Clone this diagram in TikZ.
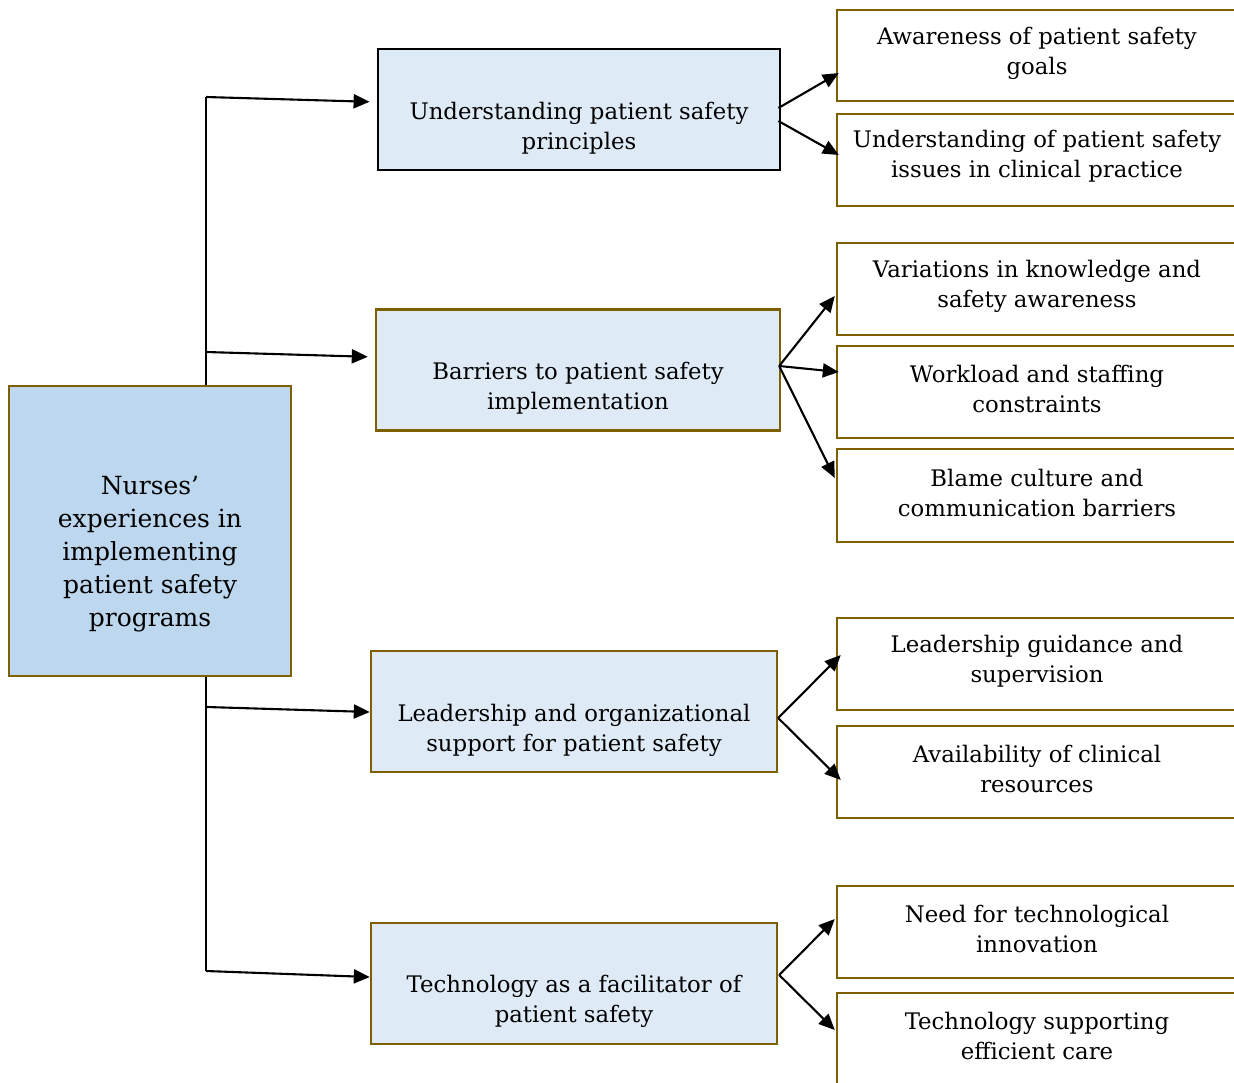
\documentclass[tikz,border=0pt]{standalone}
\usepackage{fontspec}
\setmainfont{DejaVu Serif}
\usetikzlibrary{arrows.meta,calc}
\definecolor{brd}{HTML}{7F6000}
\definecolor{mainfill}{HTML}{BDD7EE}
\definecolor{subfill}{HTML}{DEEBF7}
\begin{document}
\begin{tikzpicture}[x=1pt,y=-1pt,
  box/.style={draw=brd, line width=2.4pt, inner sep=0pt},
  mainbox/.style={box, fill=mainfill, minimum width=282pt, minimum height=290pt},
  themebox/.style={box, fill=subfill, minimum height=121pt},
  subbox/.style={box, fill=white, minimum width=400pt, minimum height=92pt},
  txt/.style={inner sep=0pt, align=center, font=\fontsize{22.8}{30}\selectfont},
  maintxt/.style={inner sep=0pt, align=center, font=\fontsize{25}{33}\selectfont},
  arr/.style={line width=2.1pt, -{Triangle[length=16pt,width=14pt]}},
  trunk/.style={line width=2.1pt}]
\useasboundingbox (0,0) rectangle (1234,1082);

% central node
\node[mainbox] (main) at (150,531) {};
\node[maintxt] (maintext) at ($(main.center)+(0,23)$) {Nurses'\\experiences in\\implementing\\patient safety\\programs};

% theme nodes
\node[themebox, draw=black, line width=2.8pt, minimum width=402pt] (t1) at (579,109.5) {};
\node[themebox, minimum width=404pt] (t2) at (578,370) {};
\node[themebox, minimum width=406pt] (t3) at (574,711.5) {};
\node[themebox, minimum width=406pt] (t4) at (574,983.5) {};
\node[txt] (t1text) at ($(t1.center)+(0,19)$) {Understanding patient safety\\principles};
\node[txt] (t2text) at ($(t2.center)+(0,18)$) {Barriers to patient safety\\implementation};
\node[txt] (t3text) at ($(t3.center)+(0,19)$) {Leadership and organizational\\support for patient safety};
\node[txt] (t4text) at ($(t4.center)+(0,18)$) {Technology as a facilitator of\\patient safety};

% sub-theme nodes
\node[subbox, minimum height=91pt] (r1) at (1037,55.5) {};
\node[subbox] (r2) at (1037,160) {};
\node[subbox] (r3) at (1037,289) {};
\node[subbox] (r4) at (1037,392) {};
\node[subbox, minimum height=93pt] (r5) at (1037,495.5) {};
\node[subbox] (r6) at (1037,664) {};
\node[subbox] (r7) at (1037,772) {};
\node[subbox] (r8) at (1037,932) {};
\node[subbox] (r9) at (1037,1039) {};
\node[txt] (r1text) at ($(r1.center)+(0,-2)$) {Awareness of patient safety\\goals};
\node[txt] (r2text) at ($(r2.center)+(0,-4)$) {Understanding of patient safety\\issues in clinical practice};
\node[txt] (r3text) at ($(r3.center)+(0,-3)$) {Variations in knowledge and\\safety awareness};
\node[txt] (r4text) at ($(r4.center)+(0,-3)$) {Workload and staffing\\constraints};
\node[txt] (r5text) at ($(r5.center)+(0,-3)$) {Blame culture and\\communication barriers};
\node[txt] (r6text) at ($(r6.center)+(0,-3)$) {Leadership guidance and\\supervision};
\node[txt] (r7text) at ($(r7.center)+(0,-3)$) {Availability of clinical\\resources};
\node[txt] (r8text) at ($(r8.center)+(0,-3)$) {Need for technological\\innovation};
\node[txt] (r9text) at ($(r9.center)+(0,-3)$) {Technology supporting\\efficient care};

% trunk junctions
\coordinate (j1) at (206,97);
\coordinate (j2) at (206,352);
\coordinate (j3) at (207,707);
\coordinate (j4) at (206,971);

\draw[trunk] (j1) -- (j1 |- main.north);
\draw[trunk] (j4 |- main.south) -- (j4);

\draw[arr, shorten >=7pt] (j1) -- ($(t1.west)+(0,-7.5)$);
\draw[arr, shorten >=7pt] (j2) -- ($(t2.west)+(0,-13)$);
\draw[arr] (j3) -- ($(t3.west)+(0,0.5)$);
\draw[arr] (j4) -- ($(t4.west)+(0,-6.5)$);

% theme to sub-theme arrows
\draw[arr] ($(t1.east)+(-3,-1.5)$) -- ($(r1.west)+(3,17.5)$);
\draw[arr] ($(t1.east)+(-3,11.5)$) -- ($(r2.west)+(3,-5)$);
\draw[arr] ($(t2.east)+(-2,-4)$) -- ($(r3.west)+(-1,7)$);
\draw[arr] ($(t2.east)+(-2,-4)$) -- ($(r4.west)+(3,-20)$);
\draw[arr] ($(t2.east)+(-2,-4)$) -- ($(r5.west)+(-1,-17.5)$);
\draw[arr] ($(t3.east)+(0,6.5)$) -- ($(r6.west)+(5,-9)$);
\draw[arr] ($(t3.east)+(0,6.5)$) -- ($(r7.west)+(5,8)$);
\draw[arr] ($(t4.east)+(1,-8.5)$) -- ($(r8.west)+(-1,-13)$);
\draw[arr] ($(t4.east)+(1,-8.5)$) -- ($(r9.west)+(-1,-9)$);
\end{tikzpicture}
\end{document}
